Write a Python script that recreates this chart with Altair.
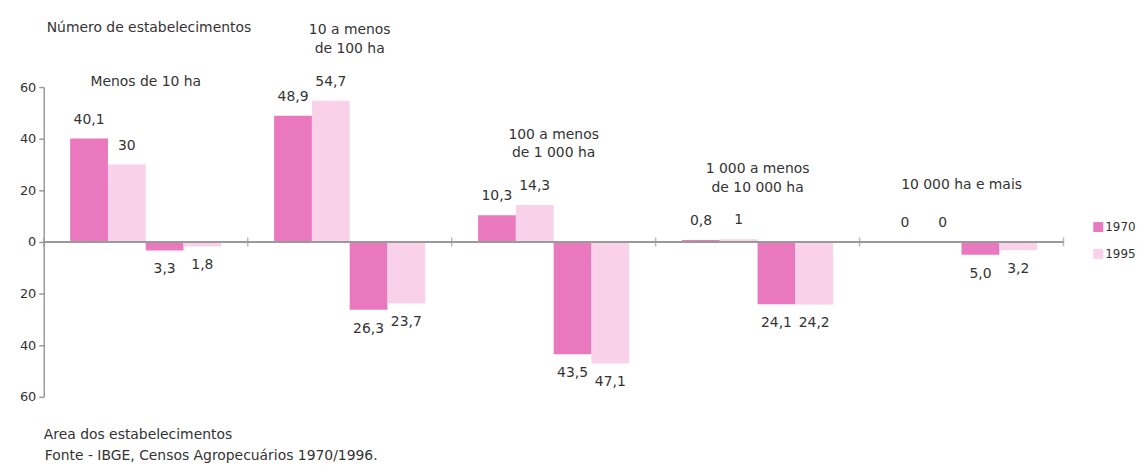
import altair as alt
import pandas as pd

# ---- data ----
groups = ["Menos de 10 ha", "10 a menos de 100 ha", "100 a menos de 1 000 ha",
          "1 000 a menos de 10 000 ha", "10 000 ha e mais"]
group_titles = ["Menos de 10 ha", "10 a menos\nde 100 ha", "100 a menos\nde 1 000 ha",
                "1 000 a menos\nde 10 000 ha", "10 000 ha e mais"]
years = ["1970", "1995"]
num_1970 = ["40,1", "48,9", "10,3", "0,8", "0"]
num_1995 = ["30", "54,7", "14,3", "1", "0"]
area_1970 = ["3,3", "26,3", "43,5", "24,1", "5,0"]
area_1995 = ["1,8", "23,7", "47,1", "24,2", "3,2"]
y_ticks = [-60, -40, -20, 0, 20, 40, 60]

top_title = "Número de estabelecimentos"
bottom_title = "Area dos estabelecimentos"
source = "Fonte - IBGE, Censos Agropecuários 1970/1996."

slots = ["num-1970", "num-1995", "area-1970", "area-1995"]


def num(s):
    return float(s.replace(",", "."))


rows = []
for i, g in enumerate(groups):
    for measure, sign, series in (("num", 1, (num_1970, num_1995)),
                                  ("area", -1, (area_1970, area_1995))):
        for y, arr in zip(years, series):
            rows.append({"group": g, "year": y, "slot": f"{measure}-{y}",
                         "value": sign * num(arr[i]), "label": arr[i]})
df = pd.DataFrame(rows)

tdf = pd.DataFrame({
    "group": groups,
    "title": group_titles,
    "top": [max(num(a), num(b)) for a, b in zip(num_1970, num_1995)],
})

FONT = "DejaVu Sans"
TXT = "#333333"
GRAY = "#9a9a9a"
C1970 = "#ea78be"
C1995 = "#f9d1e9"

gscale = alt.Scale(paddingInner=0, paddingOuter=0)
xenc = alt.X("group:N", sort=groups, axis=None, scale=gscale)
xoff = alt.XOffset("slot:N", sort=slots,
                   scale=alt.Scale(paddingInner=0, paddingOuter=0.7))
yscale = alt.Scale(domain=[-60, 60], nice=False, zero=True)

base = alt.Chart(df)

bars = base.mark_bar().encode(
    x=xenc,
    xOffset=xoff,
    y=alt.Y("value:Q", scale=yscale, title=None,
            axis=alt.Axis(values=y_ticks, labelExpr="abs(datum.value)",
                          grid=False, domainColor=GRAY, tickColor=GRAY,
                          domainWidth=1.5, tickWidth=1.5, tickSize=5,
                          labelFont=FONT, labelFontSize=13, labelColor=TXT,
                          labelPadding=3)),
    color=alt.Color("year:N", sort=years,
                    scale=alt.Scale(domain=years, range=[C1970, C1995]),
                    legend=alt.Legend(title=None, orient="none", legendX=1056,
                                      legendY=135, symbolType="square",
                                      symbolSize=100, symbolStrokeWidth=0,
                                      labelFont=FONT, labelFontSize=12,
                                      labelColor=TXT, labelOffset=1,
                                      rowPadding=15, padding=0)),
)

zero = alt.Chart(pd.DataFrame({"v": [0]})).mark_rule(
    color=GRAY, strokeWidth=2).encode(y=alt.Y("v:Q", scale=yscale))

gdf = pd.DataFrame({"group": groups})
ticks = alt.Chart(gdf).mark_tick(orient="vertical", size=9, thickness=1.5,
                                 color=GRAY).encode(
    x=alt.X("group:N", sort=groups, bandPosition=0, axis=None, scale=gscale),
    y=alt.datum(0, scale=yscale),
)
tick_end = alt.Chart(gdf.tail(1)).mark_tick(orient="vertical", size=9,
                                            thickness=1.5, color=GRAY).encode(
    x=alt.X("group:N", sort=groups, bandPosition=1, axis=None, scale=gscale),
    y=alt.datum(0, scale=yscale),
)

lab_pos = base.transform_filter("datum.value >= 0").mark_text(
    font=FONT, fontSize=14, color=TXT, baseline="middle", dy=-19).encode(
    x=xenc, xOffset=xoff, y=alt.Y("value:Q", scale=yscale), text="label:N")
lab_neg = base.transform_filter("datum.value < 0").mark_text(
    font=FONT, fontSize=14, color=TXT, baseline="middle", dy=19).encode(
    x=xenc, xOffset=xoff, y=alt.Y("value:Q", scale=yscale), text="label:N")

tbase = alt.Chart(tdf)
titles_one = tbase.transform_filter("indexof(datum.title, '\\n') < 0").mark_text(
    font=FONT, fontSize=14, color=TXT, baseline="bottom", dy=-50).encode(
    x=xenc, y=alt.Y("top:Q", scale=yscale), text="title:N")
titles_two = tbase.transform_filter("indexof(datum.title, '\\n') >= 0").mark_text(
    font=FONT, fontSize=14, color=TXT, baseline="bottom", lineBreak="\n",
    lineHeight=19, dy=-64).encode(
    x=xenc, y=alt.Y("top:Q", scale=yscale), text="title:N")

ann = alt.Chart(pd.DataFrame({"t": [top_title, bottom_title, source],
                              "k": ["a", "b", "c"]}))
ann_top = ann.transform_filter("datum.k == 'a'").mark_text(
    font=FONT, fontSize=14, color=TXT, align="left", baseline="middle").encode(
    x=alt.value(3), y=alt.value(-59), text="t:N")
ann_bot = ann.transform_filter("datum.k == 'b'").mark_text(
    font=FONT, fontSize=14, color=TXT, align="left", baseline="middle").encode(
    x=alt.value(0), y=alt.value(350), text="t:N")
ann_src = ann.transform_filter("datum.k == 'c'").mark_text(
    font=FONT, fontSize=14, color=TXT, align="left", baseline="middle").encode(
    x=alt.value(1), y=alt.value(372), text="t:N")

chart = alt.layer(bars, zero, ticks, tick_end, lab_pos, lab_neg,
                  titles_one, titles_two, ann_top, ann_bot, ann_src).properties(
    width=1027, height=312,
    autosize=alt.AutoSizeParams(type="none"),
    padding={"left": 36, "top": 78, "right": 75, "bottom": 65},
    background="white",
).configure_view(stroke=None)

chart.save("out.html", embed_options={"renderer": "svg", "actions": False})
